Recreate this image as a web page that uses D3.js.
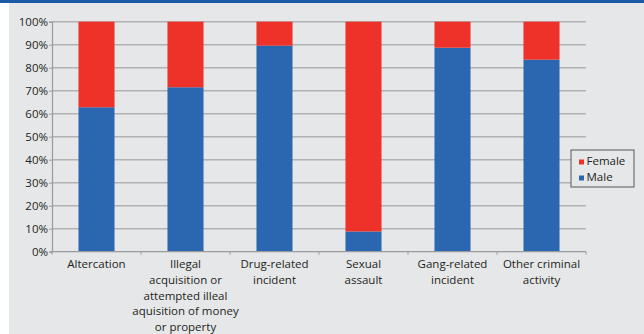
<!DOCTYPE html>
<html><head><meta charset="utf-8">
<script src="https://cdn.jsdelivr.net/npm/d3@7"></script>
<style>
html,body{margin:0;padding:0;background:#fff;}
svg{display:block;}
</style></head>
<body>
<svg id="chart" width="644" height="334"></svg>
<script>
const categories = [
  ["Altercation"],
  ["Illegal","acquisition or","attempted illeal","aquisition of money","or property"],
  ["Drug-related","incident"],
  ["Sexual","assault"],
  ["Gang-related","incident"],
  ["Other criminal","activity"]
];
const categoryKeys = ["Altercation","Illegal acquisition","Drug-related","Sexual assault","Gang-related","Other criminal"];
const male = [62.8, 71.5, 89.6, 8.8, 88.7, 83.5];
const female = male.map(v => 100 - v);
const seriesNames = ["Female","Male"];
const yTicks = [0,10,20,30,40,50,60,70,80,90,100];

(function(){
const svg = d3.select("#chart");
const W = 644, H = 334;
const font = "'Open Sans', 'Liberation Sans', sans-serif";
const red = "#ee3129", blue = "#2b67b1";

svg.append("rect").attr("x",0).attr("y",0).attr("width",W).attr("height",H).attr("fill","#ffffff");
svg.append("rect").attr("x",9).attr("y",0).attr("width",W-9).attr("height",H).attr("fill","#e6e7e9");
svg.append("rect").attr("x",0).attr("y",0).attr("width",W).attr("height",3).attr("fill","#1b5aa7");

const pl = 52, pr = 586, pt = 21.7, pb = 251.7;
const x = d3.scaleBand().domain(categoryKeys).range([pl,pr]).paddingInner(0.595).paddingOuter(0.2975);
const y = d3.scaleLinear().domain([0,100]).range([pb,pt]);

svg.append("g").selectAll("line").data(yTicks.filter(d=>d>0)).join("line")
  .attr("x1",pl).attr("x2",pr).attr("y1",d=>y(d)).attr("y2",d=>y(d))
  .attr("stroke","#b1b2b4").attr("stroke-width",1.6);

const yAxis = svg.append("g").attr("transform",`translate(${pl},0)`)
  .call(d3.axisLeft(y).tickValues(yTicks).tickFormat(d=>d+"%").tickSize(3).tickPadding(1));
yAxis.select(".domain").attr("stroke","#9a9b9d").attr("stroke-width",1.2);
yAxis.selectAll(".tick line").attr("stroke","#9a9b9d");
yAxis.selectAll("text").attr("font-family",font).attr("font-size","11.5px").attr("fill","#231f20");

const g = svg.append("g");
categoryKeys.forEach((k,i)=>{
  g.append("rect").attr("x",x(k)).attr("width",x.bandwidth())
    .attr("y",y(male[i])).attr("height",y(0)-y(male[i])).attr("fill",blue);
  g.append("rect").attr("x",x(k)).attr("width",x.bandwidth())
    .attr("y",y(100)).attr("height",y(male[i])-y(100)).attr("fill",red);
});

const xAxisG = svg.append("g").attr("transform",`translate(0,${pb})`);
xAxisG.append("line").attr("x1",pl).attr("x2",pr).attr("y1",0).attr("y2",0)
  .attr("stroke","#9a9b9d").attr("stroke-width",1.2);
const tickXs = d3.range(categoryKeys.length+1).map(i=>pl + i*(pr-pl)/categoryKeys.length);
xAxisG.selectAll(".tk").data(tickXs).join("line").attr("class","tk")
  .attr("x1",d=>d).attr("x2",d=>d).attr("y1",0).attr("y2",3)
  .attr("stroke","#9a9b9d").attr("stroke-width",1);

categoryKeys.forEach((k,i)=>{
  const cx = x(k) + x.bandwidth()/2;
  const t = svg.append("text").attr("text-anchor","middle")
    .attr("font-family",font).attr("font-size","11.5px").attr("fill","#231f20");
  categories[i].forEach((line,j)=>{
    t.append("tspan").attr("x",cx).attr("y",268 + j*15.8).text(line);
  });
});

const lg = svg.append("g");
lg.append("rect").attr("x",571).attr("y",150).attr("width",63).attr("height",37)
  .attr("fill","#e6e7e9").attr("stroke","#58595b").attr("stroke-width",1);
const legColors = [red, blue];
seriesNames.forEach((s,i)=>{
  lg.append("rect").attr("x",579).attr("y",159.5 + i*16).attr("width",5).attr("height",5).attr("fill",legColors[i]);
  lg.append("text").attr("x",586.5).attr("y",165 + i*16)
    .attr("font-family",font).attr("font-size","11.5px").attr("fill","#231f20").text(s);
});
})();
</script>
</body></html>
